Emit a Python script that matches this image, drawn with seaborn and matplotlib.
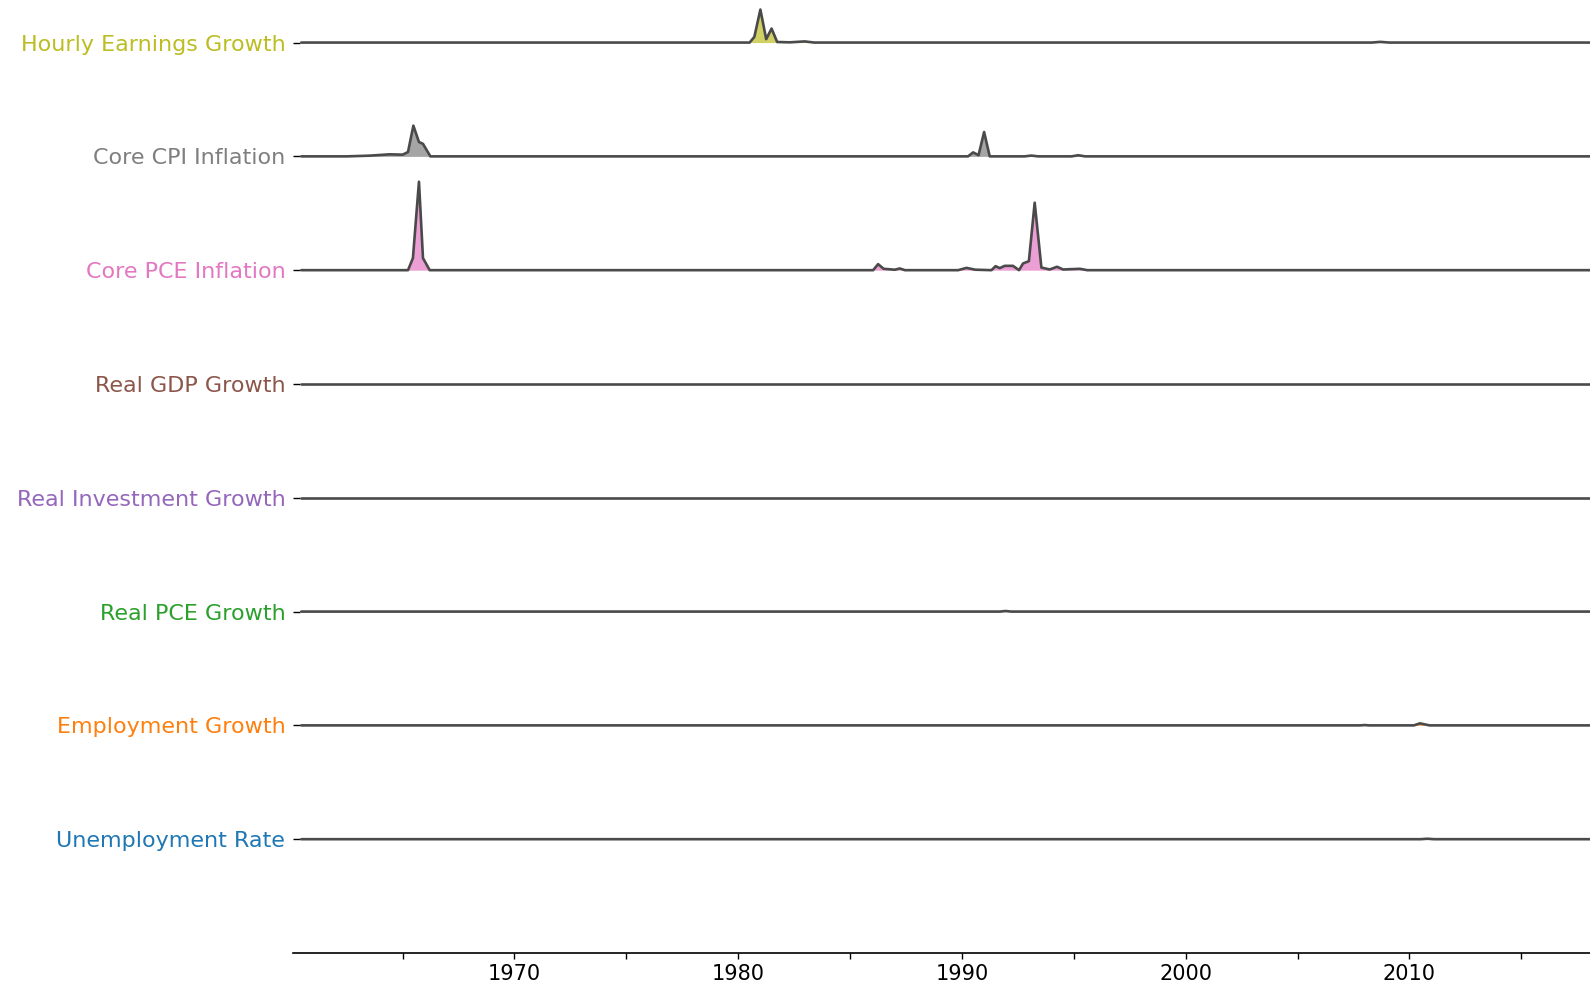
import matplotlib.pyplot as plt
import pandas as pd
import seaborn as sns

sns.set_style("ticks")
plt.rcParams["font.family"] = ["DejaVu Sans"]

# series, bottom to top, and their label colours
series_names = [
    "Unemployment Rate",
    "Employment Growth",
    "Real PCE Growth",
    "Real Investment Growth",
    "Real GDP Growth",
    "Core PCE Inflation",
    "Core CPI Inflation",
    "Hourly Earnings Growth",
]
series_colors = [
    "#1f77b4", "#ff7f0e", "#2ca02c", "#9467bd",
    "#8c564b", "#e377c2", "#7f7f7f", "#bcbd22",
]

# ridge heights (in row units)
unemp_years = [1960.47, 2010.5, 2010.8, 2011.1, 2019]
unemp_heights = [0, 0, 0.004, 0, 0]

employ_years = [1960.47, 2007.8, 2008.0, 2008.2, 2010.2, 2010.47, 2010.9, 2019]
employ_heights = [0, 0, 0.003, 0, 0, 0.018, 0, 0]

pce_growth_years = [1960.47, 1991.7, 1991.95, 1992.2, 2019]
pce_growth_heights = [0, 0, 0.005, 0, 0]

invest_years = [1960.47, 2019]
invest_heights = [0, 0]

gdp_years = [1960.47, 2019]
gdp_heights = [0, 0]

core_pce_years = [
    1960.47, 1965.24, 1965.46, 1965.73, 1965.91, 1966.21,
    1986.03, 1986.25, 1986.5, 1987.0, 1987.22, 1987.45,
    1989.83, 1990.2, 1990.6, 1991.32, 1991.5, 1991.69, 1991.91, 1992.28,
    1992.55, 1992.73, 1992.99, 1993.25, 1993.55, 1993.92, 1994.25,
    1994.52, 1995.27, 1995.6, 2019,
]
core_pce_heights = [
    0, 0, 0.106, 0.777, 0.106, 0,
    0, 0.053, 0.012, 0.004, 0.015, 0,
    0, 0.02, 0.004, 0, 0.035, 0.018, 0.038, 0.038,
    0, 0.059, 0.079, 0.593, 0.023, 0.006, 0.03,
    0.006, 0.012, 0, 0,
]

core_cpi_years = [
    1960.47, 1962.5, 1963.5, 1964.42, 1965.0, 1965.24, 1965.48, 1965.73,
    1965.91, 1966.24, 1990.27, 1990.5, 1990.74, 1990.99, 1991.24,
    1992.8, 1993.1, 1993.4, 1994.9, 1995.2, 1995.5, 2019,
]
core_cpi_heights = [
    0, 0, 0.006, 0.018, 0.015, 0.038, 0.27, 0.126,
    0.11, 0, 0, 0.035, 0.01, 0.214, 0,
    0, 0.007, 0, 0, 0.01, 0, 0,
]

hourly_years = [
    1960.47, 1980.51, 1980.72, 1980.99, 1981.25, 1981.49, 1981.74,
    1982.3, 1982.97, 1983.4, 2008.3, 2008.7, 2009.1, 2019,
]
hourly_heights = [
    0, 0, 0.05, 0.29, 0.03, 0.123, 0.005,
    0.002, 0.01, 0, 0, 0.006, 0, 0,
]

all_years = [unemp_years, employ_years, pce_growth_years, invest_years,
             gdp_years, core_pce_years, core_cpi_years, hourly_years]
all_heights = [unemp_heights, employ_heights, pce_growth_heights, invest_heights,
               gdp_heights, core_pce_heights, core_cpi_heights, hourly_heights]

frames = []
for i, (name, yrs, hts) in enumerate(zip(series_names, all_years, all_heights)):
    frames.append(pd.DataFrame({
        "year": yrs,
        "height": hts,
        "series": name,
        "offset": i + 1,
    }))
df = pd.concat(frames, ignore_index=True)
df["y"] = df["offset"] + df["height"]

fig = plt.figure(figsize=(15.9, 9.86), dpi=100)
ax = fig.add_axes([293 / 1590, 1 - 953 / 986, 1 - 293 / 1590, 953 / 986])

for name, color in zip(series_names, series_colors):
    sub = df[df["series"] == name]
    ax.fill_between(sub["year"], sub["offset"], sub["y"], color=color,
                    alpha=0.7, linewidth=0, zorder=1)

sns.lineplot(data=df, x="year", y="y", units="series", estimator=None,
             color="#4a4a4a", linewidth=1.9, legend=False, ax=ax, zorder=2)

ax.set_xlim(1960.1, 2018.07)
ax.set_ylim(0, 8.374)
ax.set_yticks(range(1, len(series_names) + 1))
ax.set_yticklabels(series_names, fontsize=16)
for lbl, color in zip(ax.get_yticklabels(), series_colors):
    lbl.set_color(color)

ax.set_xticks(range(1970, 2011, 10))
ax.set_xticks(range(1965, 2016, 10), minor=True)
ax.tick_params(axis="x", which="both", length=4.5, width=1, labelsize=15,
               pad=3.5, colors="black")
ax.tick_params(axis="y", direction="in", length=5, width=1, pad=5.5,
               color="black")
ax.set_xlabel("")
ax.set_ylabel("")

sns.despine(ax=ax, left=True)
ax.spines["bottom"].set_linewidth(1.2)
ax.spines["bottom"].set_color("black")

fig.savefig("out.png", dpi=100)
